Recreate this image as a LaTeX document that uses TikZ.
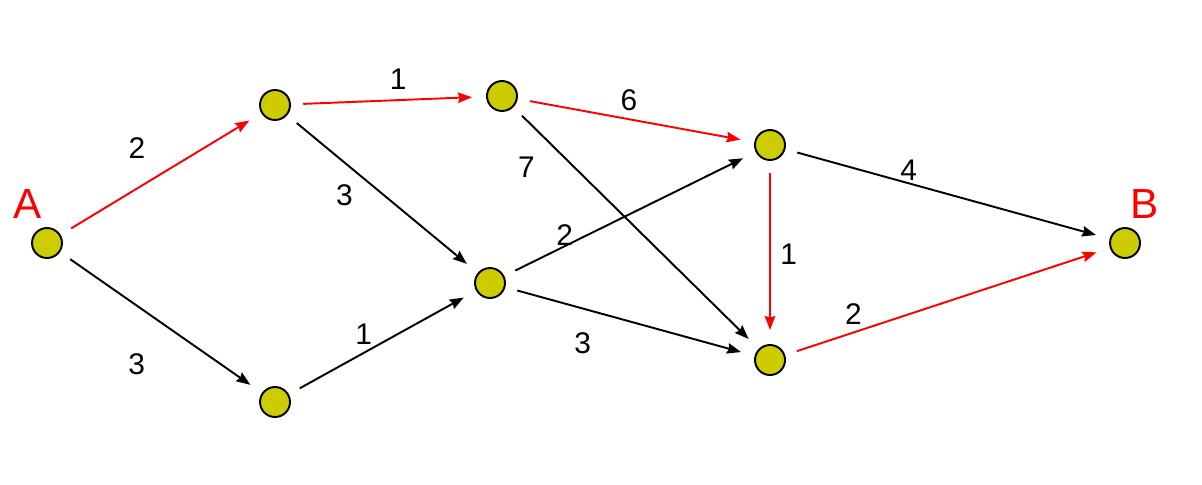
\documentclass[tikz,border=0pt]{standalone}
\usepackage{fontspec}
\setmainfont{Liberation Sans}
\usetikzlibrary{positioning, arrows.meta}

\definecolor{olive}{RGB}{204,204,0}

\begin{document}
\begin{tikzpicture}[
    x=0.02cm, y=-0.02cm,
    vertex/.style={
	circle,
	draw,
	fill=olive,
	line width=1.1pt,
	minimum size=0.6cm,
	inner sep=0pt
    },
    edge/.style={
	->,
	line width=1.1pt,
	shorten <=7pt,
	shorten >=8pt
    },
    path/.style={edge, red},
    wt/.style={text=black, font=\fontsize{17}{17}\selectfont, inner sep=0pt},
    >={Stealth[length=8pt, width=6pt, inset=1pt]}
]
	\useasboundingbox (0,0) rectangle (1202,484);

	% vertices
	\node[vertex] (A) at (47,243) {};
	\node[vertex] (n1) at (275,105) {};
	\node[vertex] (n2) at (502,96) {};
	\node[vertex] (n3) at (770,145) {};
	\node[vertex] (n4) at (275,402) {};
	\node[vertex] (n5) at (490,283) {};
	\node[vertex] (n6) at (770,360) {};
	\node[vertex] (B) at (1125,243) {};

	% end labels
	\node[red, font=\fontsize{24}{24}\selectfont, above left=0.15cm and -0.25cm of A] (labA) {A};
	\node[red, font=\fontsize{24}{24}\selectfont, above right=0.15cm and -0.25cm of B] (labB) {B};

	% shortest path
	\draw[path] (A) -- (n1) node[wt, pos=0.38, above=0.58cm] {2};
	\draw[path] (n1) -- (n2) node[wt, pos=0.55, above=0.2cm] {1};
	\draw[path] (n2) -- (n3) node[wt, pos=0.47, above=0.14cm] {6};
	\draw[path] (n3) -- (n6) node[wt, pos=0.51, right=0.19cm] {1};
	\draw[path] (n6) -- (B) node[wt, pos=0.21, above=0.14cm] {2};

	% other edges
	\draw[edge] (A) -- (n4) node[wt, pos=0.38, below=0.94cm] {3};
	\draw[edge] (n1) -- (n5) node[wt, pos=0.3, below=0.42cm] {3};
	\draw[edge] (n4) -- (n5) node[wt, pos=0.4, above=0.14cm] {1};
	\draw[edge] (n2) -- (n6) node[wt, pos=0.25, left=0.78cm] {7};
	\draw[edge] (n5) -- (n3) node[wt, pos=0.24, above=0cm] {2};
	\draw[edge] (n5) -- (n6) node[wt, pos=0.31, below=0.46cm] {3};
	\draw[edge] (n3) -- (B) node[wt, pos=0.38, above=0.04cm] {4};
\end{tikzpicture}
\end{document}
